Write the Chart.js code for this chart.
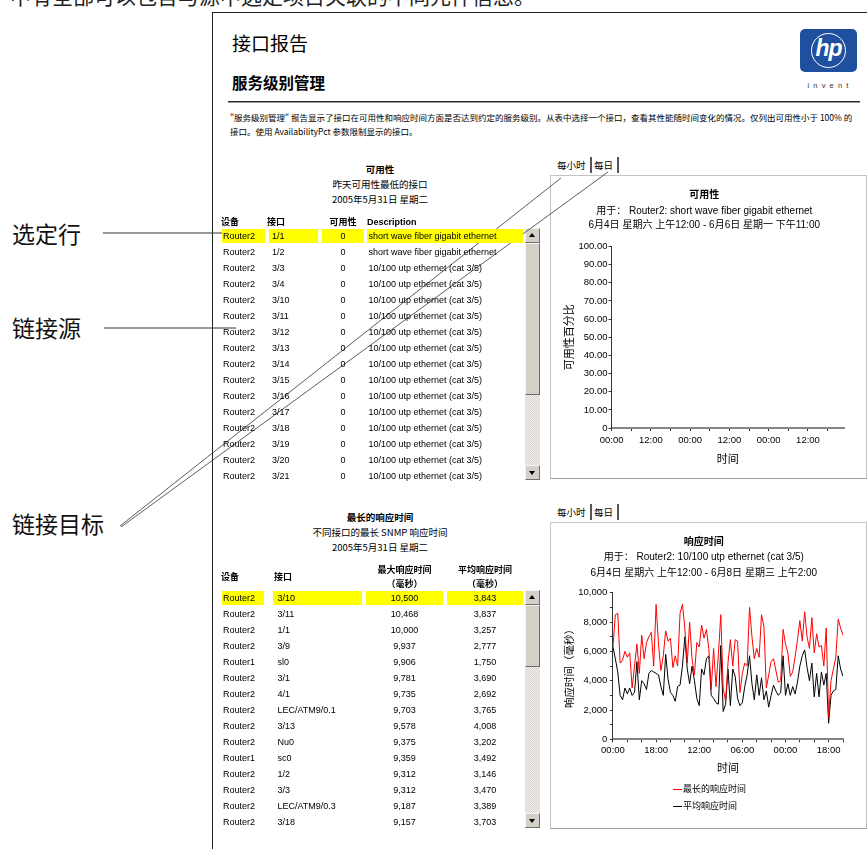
<!DOCTYPE html>
<html lang="zh-CN">
<head>
<meta charset="UTF-8">
<title>接口报告 - 服务级别管理</title>
<script src="https://cdn.jsdelivr.net/npm/chart.js"></script>
<style>
    html, body { margin: 0; padding: 0; background: #fff; }
    body {
        width: 867px; height: 849px; position: relative; overflow: hidden;
        font-family: 'Liberation Sans', 'Noto Sans CJK SC', sans-serif; color: #000;
    }
    .t { position: absolute; white-space: nowrap; line-height: 14px; height: 14px; }
    .cjk { font-family: 'Noto Sans CJK SC', sans-serif; }
    #topClip { left: 10px; top: -17px; font-size: 21px; line-height: 24px; height: 24px; color: #222; }
    .note { font-size: 23px; line-height: 28px; height: 28px; color: #111; left: 12px; }
    #frame { position: absolute; left: 212px; top: 12px; width: 700px; height: 900px;
             border-left: 1px solid #222; border-top: 1px solid #222; }
    #rule { position: absolute; left: 228px; top: 101px; width: 632px; height: 1px;
            background: #222; border-bottom: 1px solid #9a9a9a; }
    .desc { font-size: 8.5px; left: 230px; }
    .cell { position: absolute; height: 14px; line-height: 14px; font-size: 9px; white-space: nowrap; overflow: hidden; }
    .hl { background: #ffff00; }
    .hd { font-weight: bold; font-size: 9px; }
    .ttl { font-size: 9.5px; text-align: center; width: 240px; left: 260px; }
    .sb { position: absolute; width: 15px; box-sizing: border-box;
          background: repeating-conic-gradient(#d6d3ce 0 25%, #f3f2f0 0 50%) 0 0 / 2px 2px; }
    .sbb { position: absolute; left: 0; width: 15px; height: 15px; box-sizing: border-box; background: #d4d0c8;
           border: 1px solid; border-color: #f4f4f4 #6f6f6f #6f6f6f #f4f4f4; }
    .sbb i { position: absolute; left: 3px; width: 0; height: 0; border-left: 3.5px solid transparent; border-right: 3.5px solid transparent; }
    .up i { top: 4px; border-bottom: 4px solid #000; }
    .dn i { top: 5px; border-top: 4px solid #000; }
    .panel { position: absolute; box-sizing: border-box; border: 1px solid #c4c4c4; border-bottom-color: #9c9c9c; }
    .tab { position: absolute; height: 16px; line-height: 16px; font-size: 9.5px; box-sizing: border-box;
           border-right: 2px solid #555; padding: 0 4px 0 5px; }
    canvas { position: absolute; }
    #legend { position: absolute; left: 673px; top: 782px; font-size: 9px; }
    #legend div { height: 17px; line-height: 14px; white-space: nowrap; }
    #legend span { display: inline-block; width: 9px; height: 0; border-top: 1px solid; vertical-align: middle; margin-right: 1px; }
    #hp { position: absolute; left: 800px; top: 29px; width: 57px; height: 43px; background: #1f50a0; border-radius: 5px; }
    #hp div { position: absolute; left: 11px; top: 4px; width: 33px; height: 33px; border: 1.5px solid #fff; border-radius: 50%; }
    #hp b { position: absolute; left: 0; top: 6px; width: 57px; text-align: center; color: #fff; font: italic bold 23px 'Liberation Sans', sans-serif; letter-spacing: -1px; }
    #invent { left: 800px; width: 60px; top: 79px; text-align: center; font-size: 7.5px; letter-spacing: 4.2px; color: #333; }
    svg { position: absolute; left: 0; top: 0; }
</style>
</head>
<body>
<div class="t cjk" id="topClip">中有全部可以包含与源中选定项目关联的不同元件信息。</div>

<div class="t note cjk" style="top:219px">选定行</div>
<div class="t note cjk" style="top:313px">链接源</div>
<div class="t note cjk" style="top:509px">链接目标</div>

<div id="frame"></div>
<div class="t cjk" style="left:232px; top:31px; font-size:19px; line-height:24px; height:24px;">接口报告</div>
<div class="t cjk" style="left:232px; top:71px; font-size:15.5px; font-weight:bold; line-height:22px; height:22px;">服务级别管理</div>
<div id="hp"><div></div><b>hp</b></div>
<div class="t" id="invent">invent</div>
<div id="rule"></div>
<div class="t desc cjk" style="top:110px">"服务级别管理" 报告显示了接口在可用性和响应时间方面是否达到约定的服务级别。从表中选择一个接口，查看其性能随时间变化的情况。仅列出可用性小于 100% 的</div>
<div class="t desc cjk" style="top:124px">接口。使用 AvailabilityPct 参数限制显示的接口。</div>

<!-- 可用性表 -->
<div class="t ttl cjk" style="top:162px; font-weight:bold;">可用性</div>
<div class="t ttl cjk" style="top:177px;">昨天可用性最低的接口</div>
<div class="t ttl cjk" style="top:192px;">2005年5月31日 星期二</div>
<div id="availTable"></div>
<div class="sb" style="left:525px; top:228px; height:252px;">
    <div class="sbb up" style="top:0"><i></i></div>
    <div class="sbb" style="top:15px; height:152px;"></div>
    <div class="sbb dn" style="top:237px"><i></i></div>
</div>

<!-- 响应时间表 -->
<div class="t ttl cjk" style="top:510px; font-weight:bold;">最长的响应时间</div>
<div class="t ttl cjk" style="top:525px;">不同接口的最长 SNMP 响应时间</div>
<div class="t ttl cjk" style="top:540px;">2005年5月31日 星期二</div>
<div id="respTable"></div>
<div class="sb" style="left:525px; top:590px; height:238px;">
    <div class="sbb up" style="top:0"><i></i></div>
    <div class="sbb" style="top:15px; height:62px;"></div>
    <div class="sbb dn" style="top:223px"><i></i></div>
</div>

<!-- 图表面板 -->
<div class="tab cjk" style="left:552px; top:157px;">每小时</div>
<div class="tab cjk" style="left:589px; top:157px;">每日</div>
<div class="panel" style="left:550px; top:175px; width:317px; height:304px;"></div>
<canvas id="availChart" width="310" height="300" style="left:553px; top:178px;"></canvas>

<div class="tab cjk" style="left:552px; top:504px;">每小时</div>
<div class="tab cjk" style="left:589px; top:504px;">每日</div>
<div class="panel" style="left:550px; top:522px; width:317px; height:307px;"></div>
<canvas id="respChart" width="310" height="262" style="left:553px; top:522px;"></canvas>
<div id="legend"></div>

<svg width="867" height="849">
    <g stroke="#333" stroke-width="1" fill="none">
        <line x1="103" y1="233" x2="222" y2="233"/>
        <line x1="104" y1="328" x2="236" y2="328"/>
        <line x1="120" y1="526" x2="561" y2="178" stroke-width="0.8"/>
        <line x1="121" y1="527" x2="608" y2="172" stroke-width="0.8"/>
    </g>
</svg>

<script>
// ---- 可用性表 ----
const availDevices = ['Router2', 'Router2', 'Router2', 'Router2', 'Router2', 'Router2', 'Router2', 'Router2',
                      'Router2', 'Router2', 'Router2', 'Router2', 'Router2', 'Router2', 'Router2', 'Router2'];
const availPorts = ['1/1', '1/2', '3/3', '3/4', '3/10', '3/11', '3/12', '3/13',
                    '3/14', '3/15', '3/16', '3/17', '3/18', '3/19', '3/20', '3/21'];
const availPct = [0, 0, 0, 0, 0, 0, 0, 0, 0, 0, 0, 0, 0, 0, 0, 0];
const availDesc = ['short wave fiber gigabit ethernet', 'short wave fiber gigabit ethernet',
                   '10/100 utp ethernet (cat 3/5)', '10/100 utp ethernet (cat 3/5)', '10/100 utp ethernet (cat 3/5)',
                   '10/100 utp ethernet (cat 3/5)', '10/100 utp ethernet (cat 3/5)', '10/100 utp ethernet (cat 3/5)',
                   '10/100 utp ethernet (cat 3/5)', '10/100 utp ethernet (cat 3/5)', '10/100 utp ethernet (cat 3/5)',
                   '10/100 utp ethernet (cat 3/5)', '10/100 utp ethernet (cat 3/5)', '10/100 utp ethernet (cat 3/5)',
                   '10/100 utp ethernet (cat 3/5)', '10/100 utp ethernet (cat 3/5)'];

// ---- 响应时间表 ----
const respDevices = ['Router2', 'Router2', 'Router2', 'Router2', 'Router1', 'Router2', 'Router2', 'Router2',
                     'Router2', 'Router2', 'Router1', 'Router2', 'Router2', 'Router2', 'Router2'];
const respPorts = ['3/10', '3/11', '1/1', '3/9', 'sl0', '3/1', '4/1', 'LEC/ATM9/0.1',
                   '3/13', 'Nu0', 'sc0', '1/2', '3/3', 'LEC/ATM9/0.3', '3/18'];
const respMax = [10500, 10468, 10000, 9937, 9906, 9781, 9735, 9703, 9578, 9375, 9359, 9312, 9312, 9187, 9157];
const respAvg = [3843, 3837, 3257, 2777, 1750, 3690, 2692, 3765, 4008, 3202, 3492, 3146, 3470, 3389, 3703];

// ---- 可用性图 (每小时) ----
const availTickLabels = ['00:00', '12:00', '00:00', '12:00', '00:00', '12:00'];
const availHourly = [];   // 图中没有画出数据

// ---- 响应时间图 (每小时, 毫秒) ----
const respTickLabels = ['00:00', '18:00', '12:00', '06:00', '00:00', '18:00'];
const respMaxHourly = [
    6300, 8500, 8600, 5200, 5400, 6000, 5600, 5900, 3500, 5000,
    6500, 4500, 7100, 5500, 6600, 7000, 7300, 5000, 9200, 6500,
    4700, 5700, 7400, 6700, 6900, 4900, 5700, 5000, 8600, 9200,
    7600, 5200, 8000, 5500, 4400, 6600, 6300, 7800, 6900, 7500,
    6200, 3400, 6200, 3600, 5800, 8500, 3500, 2600, 5200, 6800,
    5000, 6800, 6700, 3200, 4500, 5200, 5000, 9000, 7000, 5500,
    6200, 5600, 8500, 7700, 3500, 4400, 5300, 5500, 4700, 3900,
    4000, 7500, 6500, 5900, 4300, 4600, 5600, 6800, 8100, 6700,
    8700, 7000, 6200, 8300, 5900, 7200, 6300, 6400, 5000, 7600,
    1500, 4000, 4800, 5600, 8200, 7600, 7100
];
const respAvgHourly = [
    6300, 5500, 4600, 3000, 2700, 3500, 3100, 3500, 3000, 3200,
    5300, 2700, 4000, 3800, 3400, 4500, 4700, 4600, 4500, 4400,
    3600, 3000, 5800, 4100, 3200, 3000, 2600, 3600, 3700, 5000,
    7000, 4800, 3800, 5000, 4000, 2800, 2300, 4800, 4400, 5500,
    5700, 3000, 2800, 2500, 2400, 6400, 1900, 2400, 4800, 2300,
    4800, 4300, 2800, 2300, 2500, 3600, 4400, 5700, 3800, 2700,
    4400, 3000, 4200, 2700, 3300, 2200, 3000, 3700, 3300, 3000,
    3200, 5700, 3000, 3800, 3000, 3600, 3100, 3900, 5000, 5700,
    6100, 4900, 4000, 5200, 2900, 4500, 2900, 4600, 3700, 4500,
    1100, 3000, 3300, 3400, 5700, 4800, 4300
];

// ---------- 表格 ----------
function cell(left, top, width, text, opts) {
    opts = opts || {};
    const d = document.createElement('div');
    d.className = 'cell' + (opts.hl ? ' hl' : '') + (opts.bold ? ' hd' : '') + (opts.cjk ? ' cjk' : '');
    d.style.left = left + 'px';
    d.style.top = top + 'px';
    d.style.width = width + 'px';
    d.style.textAlign = opts.align || 'left';
    if (opts.pad) d.style.paddingLeft = opts.pad + 'px', d.style.boxSizing = 'border-box';
    d.textContent = text;
    document.body.appendChild(d);
}

const fmt = n => n.toLocaleString('en-US');

// 可用性表
cell(221, 215, 40, '设备', { bold: true, cjk: true });
cell(267, 215, 50, '接口', { bold: true, cjk: true });
cell(322, 215, 42, '可用性', { bold: true, cjk: true, align: 'center' });
cell(367, 215, 150, 'Description', { bold: true });
availDevices.forEach((dev, i) => {
    const y = 236 + i * 16 - 7;
    const hl = i === 0;
    cell(222, y, 43, dev, { hl, pad: 1 });
    cell(269, y, 49, availPorts[i], { hl, pad: 3 });
    cell(322, y, 42, String(availPct[i]), { hl, align: 'center' });
    cell(367, y, 156, availDesc[i], { hl, pad: 1.5 });
});

// 响应时间表
cell(221, 570, 40, '设备', { bold: true, cjk: true });
cell(274, 570, 50, '接口', { bold: true, cjk: true });
cell(366, 563, 77, '最大响应时间', { bold: true, cjk: true, align: 'center' });
cell(366, 577, 77, '（毫秒）', { bold: true, cjk: true, align: 'center' });
cell(447, 563, 76, '平均响应时间', { bold: true, cjk: true, align: 'center' });
cell(447, 577, 76, '（毫秒）', { bold: true, cjk: true, align: 'center' });
respDevices.forEach((dev, i) => {
    const y = 598 + i * 16 - 7;
    const hl = i === 0;
    cell(222, y, 42, dev, { hl, pad: 1 });
    cell(273, y, 89, respPorts[i], { hl, pad: 4.5 });
    cell(366, y, 77, fmt(respMax[i]), { hl, align: 'center' });
    cell(447, y, 76, fmt(respAvg[i]), { hl, align: 'center' });
});

// ---------- 图表 ----------
Chart.defaults.font.family = "'Liberation Sans', 'Noto Sans CJK SC', sans-serif";
Chart.defaults.color = '#000';
Chart.defaults.animation = false;

const tickFont = { size: 9.5 };
const axisGrid = { display: true, drawOnChartArea: false, drawTicks: true, tickLength: 3, color: '#333' };

new Chart(document.getElementById('availChart'), {
    type: 'line',
    data: {
        datasets: [{
            label: '可用性',
            data: availHourly,
            borderColor: '#808080',
            borderWidth: 1,
            pointRadius: 0
        }]
    },
    options: {
        responsive: false,
        layout: { padding: { left: 11.5, right: 19, top: 0, bottom: 12.5 } },
        plugins: {
            legend: { display: false },
            tooltip: { enabled: false },
            title: {
                display: true, text: '可用性', color: '#000',
                font: { size: 10, weight: 'bold' }, padding: { top: 11, bottom: 1 }
            },
            subtitle: {
                display: true, color: '#000',
                text: ['用于： Router2: short wave fiber gigabit ethernet',
                       '6月4日 星期六 上午12:00 - 6月6日 星期一 下午11:00'],
                font: { size: 10, lineHeight: 1.45 }, padding: { top: 1.5, bottom: 14 }
            }
        },
        scales: {
            x: {
                type: 'linear', min: 0, max: 71,
                grid: axisGrid,
                border: { display: true, color: '#858585', width: 2 },
                ticks: {
                    stepSize: 6, includeBounds: false, autoSkip: false, maxRotation: 0,
                    padding: 3.6, font: tickFont,
                    callback: v => (v % 12 === 0 ? availTickLabels[v / 12] : '')
                },
                title: { display: true, text: '时间', font: { size: 11, lineHeight: 1 }, padding: { top: 4.8, bottom: 0 } }
            },
            y: {
                min: 0, max: 100,
                grid: axisGrid,
                border: { display: true, color: '#333', width: 1 },
                ticks: {
                    stepSize: 10, padding: 1, font: tickFont,
                    callback: v => (v === 0 ? '0' : v.toFixed(2))
                },
                title: { display: true, text: '可用性百分比', font: { size: 11, lineHeight: 1 }, padding: { top: 0, bottom: 2 } }
            }
        }
    }
});

const respChart = new Chart(document.getElementById('respChart'), {
    type: 'line',
    data: {
        datasets: [
            {
                label: '最长的响应时间',
                data: respMaxHourly.map((v, i) => ({ x: i, y: v })),
                borderColor: '#ff0000', borderWidth: 1, pointRadius: 0, tension: 0
            },
            {
                label: '平均响应时间',
                data: respAvgHourly.map((v, i) => ({ x: i, y: v })),
                borderColor: '#000000', borderWidth: 1, pointRadius: 0, tension: 0
            }
        ]
    },
    options: {
        responsive: false,
        layout: { padding: { left: 11.5, right: 20, top: 0, bottom: 9.5 } },
        plugins: {
            legend: { display: false },
            tooltip: { enabled: false },
            title: {
                display: true, text: '响应时间', color: '#000',
                font: { size: 10, weight: 'bold' }, padding: { top: 14.7, bottom: 1 }
            },
            subtitle: {
                display: true, color: '#000',
                text: ['用于： Router2: 10/100 utp ethernet (cat 3/5)',
                       '6月4日 星期六 上午12:00 - 6月8日 星期三 上午2:00'],
                font: { size: 10, lineHeight: 1.54 }, padding: { top: 0, bottom: 12.2 }
            }
        },
        scales: {
            x: {
                type: 'linear', min: 0, max: 96,
                grid: axisGrid,
                border: { display: true, color: '#858585', width: 2 },
                ticks: {
                    stepSize: 6, includeBounds: false, autoSkip: false, maxRotation: 0,
                    padding: 2.3, font: tickFont,
                    callback: v => (v % 18 === 0 ? respTickLabels[v / 18] : '')
                },
                title: { display: true, text: '时间', font: { size: 11, lineHeight: 1 }, padding: { top: 5.1, bottom: 0 } }
            },
            y: {
                min: 0, max: 10000,
                grid: axisGrid,
                border: { display: true, color: '#333', width: 1 },
                ticks: {
                    stepSize: 1000, padding: 2.7, font: tickFont,
                    callback: v => (v % 2000 === 0 ? fmt(v) : '')
                },
                title: { display: true, text: '响应时间（毫秒）', font: { size: 10.5, lineHeight: 1 }, padding: { top: 0, bottom: 0.5 } }
            }
        }
    }
});

// 图例 (按数据集生成)
const legend = document.getElementById('legend');
respChart.data.datasets.forEach(ds => {
    const row = document.createElement('div');
    row.className = 'cjk';
    const mark = document.createElement('span');
    mark.style.borderTopColor = ds.borderColor;
    row.appendChild(mark);
    row.appendChild(document.createTextNode(ds.label));
    legend.appendChild(row);
});
</script>
</body>
</html>
